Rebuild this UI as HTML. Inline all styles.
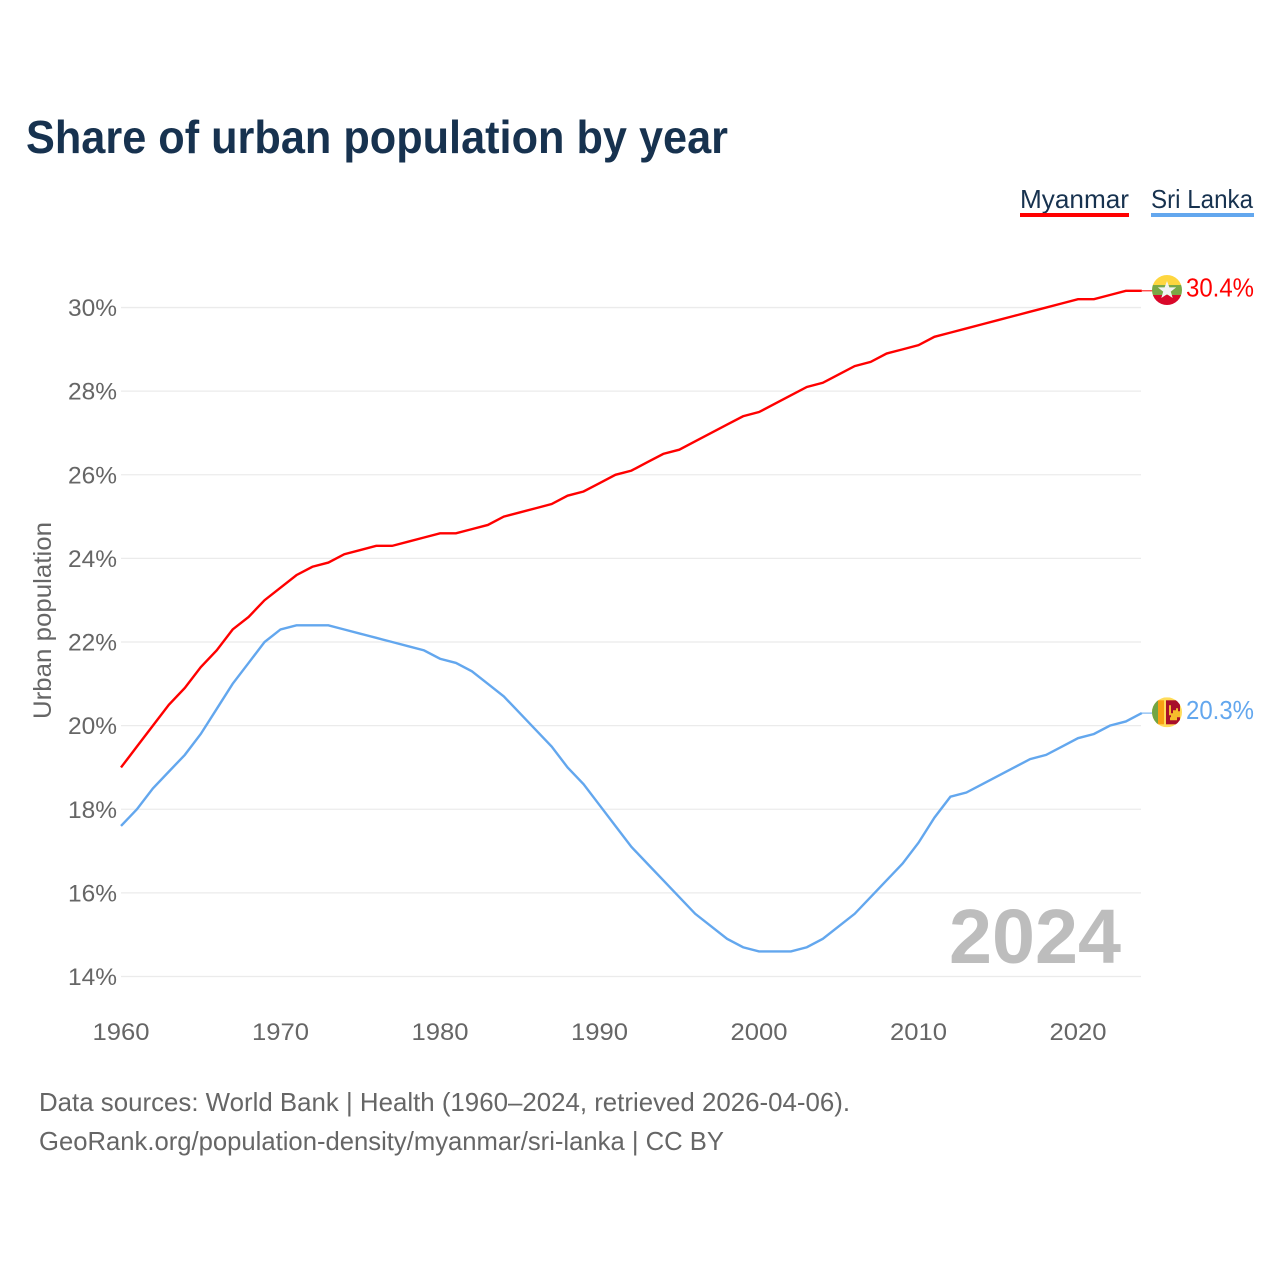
<!DOCTYPE html>
<html lang="en">
<head>
<meta charset="utf-8">
<title>Share of urban population by year</title>
<style>
html,body{margin:0;padding:0;background:#fff;width:1280px;height:1280px;overflow:hidden}
svg{display:block}
text{font-family:"Liberation Sans",sans-serif}
.tick{font-size:24px;fill:#666}
.foot{font-size:26px;fill:#666}
</style>
</head>
<body>
<svg id="chart" width="1280" height="1280" viewBox="0 0 1280 1280" xmlns="http://www.w3.org/2000/svg">
  <defs>
    <clipPath id="clip-flag"><circle cx="0" cy="0" r="15"/></clipPath>
  </defs>
  <text x="26" y="153" font-size="46" font-weight="700" fill="#17324f" textLength="702" lengthAdjust="spacingAndGlyphs">Share of urban population by year</text>

  <g>
    <text x="1020" y="208" font-size="26" fill="#17324f" textLength="109" lengthAdjust="spacingAndGlyphs">Myanmar</text>
    <rect x="1020" y="213" width="109" height="4" fill="#ff0000"/>
  </g>
  <g>
    <text x="1151" y="208" font-size="26" fill="#17324f" textLength="102" lengthAdjust="spacingAndGlyphs">Sri Lanka</text>
    <rect x="1151" y="213" width="103" height="4" fill="#63a7ee"/>
  </g>

  <g id="grid"></g>
  <g id="y-ticks"></g>
  <g id="x-ticks"></g>

  <text transform="translate(51,620.5) rotate(-90)" text-anchor="middle" font-size="25" fill="#666" textLength="197" lengthAdjust="spacingAndGlyphs">Urban population</text>

  <text x="949" y="963" font-size="77" font-weight="700" fill="#bdbdbd" textLength="172" lengthAdjust="spacingAndGlyphs">2024</text>

  <g id="series"></g>

  <g id="flag-myanmar">
    <g clip-path="url(#clip-flag)">
      <rect x="-15" y="-15" width="30" height="10" fill="#fed63f"/>
      <rect x="-15" y="-5" width="30" height="10" fill="#7aa846"/>
      <rect x="-15" y="5" width="30" height="10" fill="#d9082a"/>
      <polygon points="0,-9 2.4,-2.6 9.2,-2.6 3.8,1.6 5.7,8 0,4.2 -5.7,8 -3.8,1.6 -9.2,-2.6 -2.4,-2.6" fill="#f2f2f2"/>
    </g>
  </g>
  <g id="flag-sri-lanka">
    <g clip-path="url(#clip-flag)">
      <rect x="-15" y="-15" width="30" height="30" fill="#ffdc5a"/>
      <rect x="-15" y="-12" width="6" height="24" fill="#72a544"/>
      <rect x="-9" y="-12" width="6" height="24" fill="#f8a013"/>
      <rect x="-1" y="-12" width="14" height="24" fill="#a80f2a"/>
      <path d="M2,-7h2v8h2v-3h3v-2h2v3h2v6h-3v3h-7v-3h1v-2h-2z" fill="#f5bd2c"/>
    </g>
  </g>

  <text id="label-myanmar" x="1254" text-anchor="end" font-size="26" fill="#ff0000" textLength="68" lengthAdjust="spacingAndGlyphs"></text>
  <text id="label-sri-lanka" x="1254" text-anchor="end" font-size="26" fill="#63a7ee" textLength="68" lengthAdjust="spacingAndGlyphs"></text>

  <text class="foot" x="39" y="1111" textLength="811" lengthAdjust="spacingAndGlyphs">Data sources: World Bank | Health (1960–2024, retrieved 2026-04-06).</text>
  <text class="foot" x="39" y="1150" textLength="685" lengthAdjust="spacingAndGlyphs">GeoRank.org/population-density/myanmar/sri-lanka | CC BY</text>
</svg>
<script>
var startYear = 1960;
var yTickValues = [14, 16, 18, 20, 22, 24, 26, 28, 30];
var xTickValues = [1960, 1970, 1980, 1990, 2000, 2010, 2020];
var myanmarValues = [19.0,19.5,20.0,20.5,20.9,21.4,21.8,22.3,22.6,23.0,23.3,23.6,23.8,23.9,24.1,24.2,24.3,24.3,24.4,24.5,24.6,24.6,24.7,24.8,25.0,25.1,25.2,25.3,25.5,25.6,25.8,26.0,26.1,26.3,26.5,26.6,26.8,27.0,27.2,27.4,27.5,27.7,27.9,28.1,28.2,28.4,28.6,28.7,28.9,29.0,29.1,29.3,29.4,29.5,29.6,29.7,29.8,29.9,30.0,30.1,30.2,30.2,30.3,30.4,30.4];
var sriLankaValues = [17.6,18.0,18.5,18.9,19.3,19.8,20.4,21.0,21.5,22.0,22.3,22.4,22.4,22.4,22.3,22.2,22.1,22.0,21.9,21.8,21.6,21.5,21.3,21.0,20.7,20.3,19.9,19.5,19.0,18.6,18.1,17.6,17.1,16.7,16.3,15.9,15.5,15.2,14.9,14.7,14.6,14.6,14.6,14.7,14.9,15.2,15.5,15.9,16.3,16.7,17.2,17.8,18.3,18.4,18.6,18.8,19.0,19.2,19.3,19.5,19.7,19.8,20.0,20.1,20.3];

var NS = 'http://www.w3.org/2000/svg';
function xScale(year) { return 121 + (year - 1960) * 15.95; }
function yScale(v) { return 976.5 - (v - 14) * 41.81; }
function make(tag, parent) {
  var el = document.createElementNS(NS, tag);
  parent.appendChild(el);
  return el;
}

var gridGroup = document.getElementById('grid');
var yGroup = document.getElementById('y-ticks');
yTickValues.forEach(function (v) {
  var line = make('line', gridGroup);
  
  
  line.setAttribute('x1', 121);
  line.setAttribute('x2', 1141);
  line.setAttribute('y1', yScale(v));
  line.setAttribute('y2', yScale(v));
  line.setAttribute('stroke', '#ebebeb');
  line.setAttribute('stroke-width', '1.3');
  var t = make('text', yGroup);
  
  
  t.setAttribute('class', 'tick');
  t.setAttribute('x', 117);
  t.setAttribute('y', yScale(v) + 8.5);
  t.setAttribute('text-anchor', 'end');
  t.setAttribute('textLength', '49');
  t.setAttribute('lengthAdjust', 'spacingAndGlyphs');
  t.textContent = v + '%';
});

var xGroup = document.getElementById('x-ticks');
xTickValues.forEach(function (yr) {
  var t = make('text', xGroup);
  
  
  t.setAttribute('class', 'tick');
  t.setAttribute('x', xScale(yr));
  t.setAttribute('y', 1040);
  t.setAttribute('text-anchor', 'middle');
  t.setAttribute('textLength', '57');
  t.setAttribute('lengthAdjust', 'spacingAndGlyphs');
  t.textContent = yr;
});

function pathFor(values) {
  return values.map(function (v, i) {
    return (i ? 'L' : 'M') + xScale(startYear + i).toFixed(2) + ' ' + yScale(v).toFixed(2);
  }).join(' ');
}

var seriesGroup = document.getElementById('series');

var myanmarLine = make('path', seriesGroup);


myanmarLine.setAttribute('d', pathFor(myanmarValues));
myanmarLine.setAttribute('fill', 'none');
myanmarLine.setAttribute('stroke', '#ff0000');
myanmarLine.setAttribute('stroke-width', '2.4');

var sriLankaLine = make('path', seriesGroup);


sriLankaLine.setAttribute('d', pathFor(sriLankaValues));
sriLankaLine.setAttribute('fill', 'none');
sriLankaLine.setAttribute('stroke', '#63a7ee');
sriLankaLine.setAttribute('stroke-width', '2.4');

var lastMyanmar = myanmarValues[myanmarValues.length - 1];
var lastSriLanka = sriLankaValues[sriLankaValues.length - 1];

var connectorMyanmar = make('line', seriesGroup);


connectorMyanmar.setAttribute('x1', xScale(2024));
connectorMyanmar.setAttribute('x2', 1153);
connectorMyanmar.setAttribute('y1', yScale(lastMyanmar));
connectorMyanmar.setAttribute('y2', yScale(lastMyanmar));
connectorMyanmar.setAttribute('stroke', '#ff0000');
connectorMyanmar.setAttribute('stroke-width', '1');

var connectorSriLanka = make('line', seriesGroup);


connectorSriLanka.setAttribute('x1', xScale(2024));
connectorSriLanka.setAttribute('x2', 1153);
connectorSriLanka.setAttribute('y1', yScale(lastSriLanka));
connectorSriLanka.setAttribute('y2', yScale(lastSriLanka));
connectorSriLanka.setAttribute('stroke', '#63a7ee');
connectorSriLanka.setAttribute('stroke-width', '1');

document.getElementById('flag-myanmar').setAttribute('transform', 'translate(1167,' + (yScale(lastMyanmar) - 0.8) + ')');
document.getElementById('flag-sri-lanka').setAttribute('transform', 'translate(1167,' + (yScale(lastSriLanka) - 0.8) + ')');

var labelMyanmar = document.getElementById('label-myanmar');
labelMyanmar.setAttribute('y', yScale(lastMyanmar) + 5.5);
labelMyanmar.textContent = lastMyanmar.toFixed(1) + '%';
var labelSriLanka = document.getElementById('label-sri-lanka');
labelSriLanka.setAttribute('y', yScale(lastSriLanka) + 6);
labelSriLanka.textContent = lastSriLanka.toFixed(1) + '%';
</script>
</body>
</html>
